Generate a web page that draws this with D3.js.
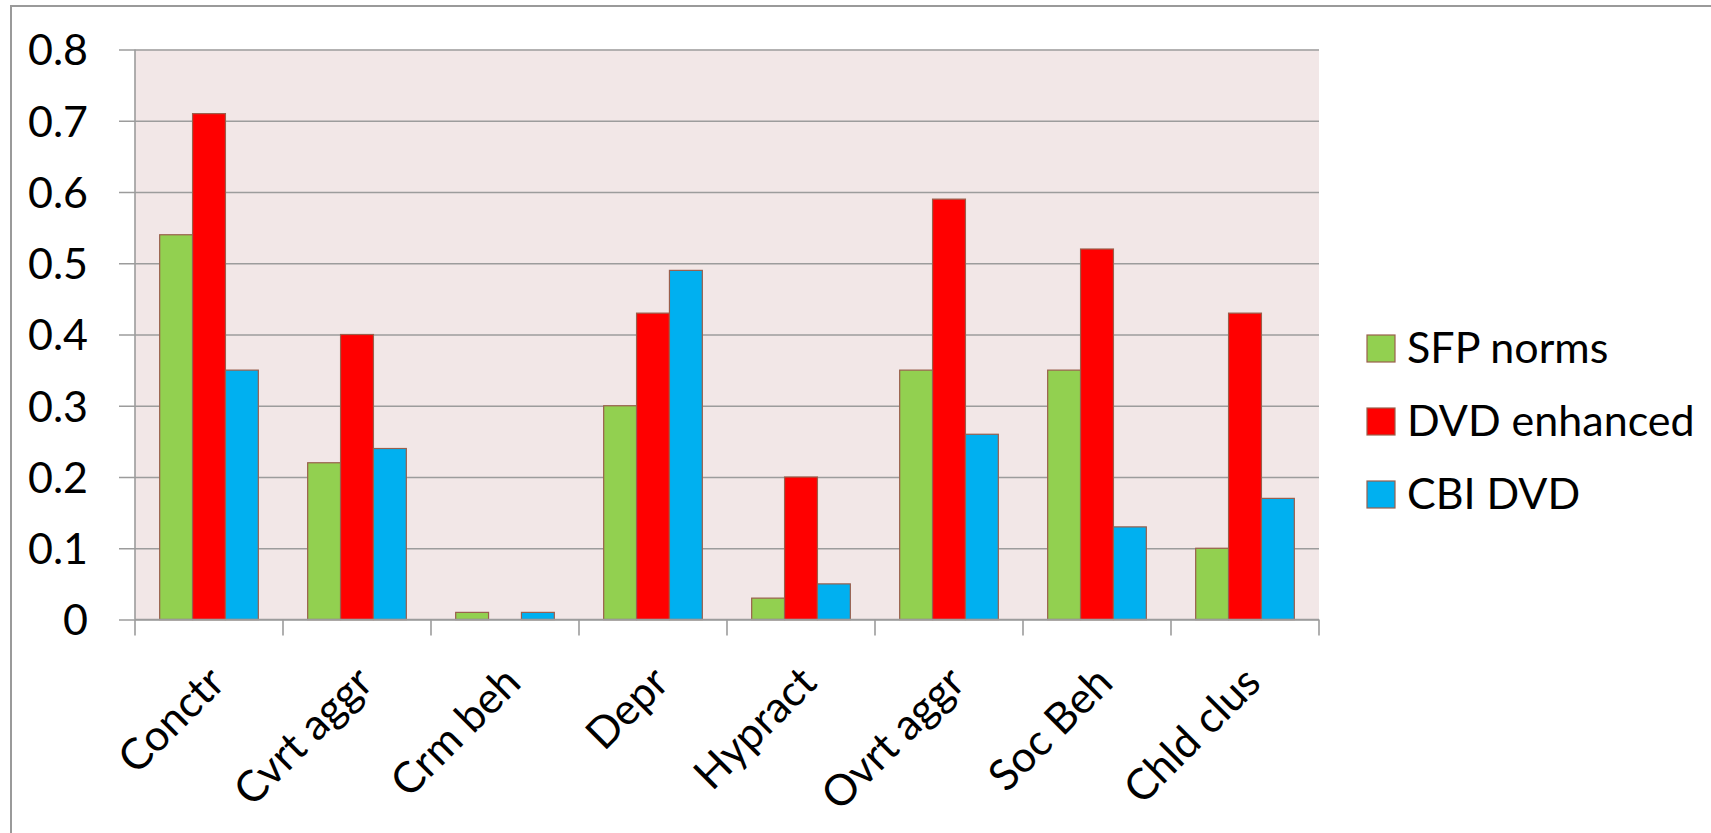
<!DOCTYPE html>
<html>
<head>
<meta charset="utf-8">
<script src="https://cdn.jsdelivr.net/npm/d3@7"></script>
<style>
  html, body { margin: 0; padding: 0; background: #ffffff; overflow: hidden; }
  svg { display: block; }
  text { font-family: Lato, "Open Sans", sans-serif; fill: #000; }
</style>
</head>
<body>
<svg id="chart" width="1711" height="833"></svg>
<script>
const categories = ["Conctr", "Cvrt aggr", "Crm beh", "Depr", "Hypract", "Ovrt aggr", "Soc Beh", "Chld clus"];
const seriesNames = ["SFP norms", "DVD enhanced", "CBI DVD"];
const sfpNorms    = [0.54, 0.22, 0.01, 0.30, 0.03, 0.35, 0.35, 0.10];
const dvdEnhanced = [0.71, 0.40, 0.00, 0.43, 0.20, 0.59, 0.52, 0.43];
const cbiDvd      = [0.35, 0.24, 0.01, 0.49, 0.05, 0.26, 0.13, 0.17];
const yTicks = [0, 0.1, 0.2, 0.3, 0.4, 0.5, 0.6, 0.7, 0.8];
const colors = ["#92D050", "#FF0000", "#00B0F0"];

const seriesValues = [sfpNorms, dvdEnhanced, cbiDvd];

const svg = d3.select("#chart");
const W = 1711, H = 833;
const plot = { left: 135, right: 1319, top: 49.5, bottom: 619.5 };
const fontSize = 43;

// outer chart border (extends past right/bottom edges)
svg.append("rect")
  .attr("x", 11).attr("y", 6)
  .attr("width", W).attr("height", H)
  .attr("fill", "#fff")
  .attr("stroke", "#9a9a9a").attr("stroke-width", 2);

// plot area background
svg.append("rect")
  .attr("x", plot.left).attr("y", plot.top)
  .attr("width", plot.right - plot.left).attr("height", plot.bottom - plot.top)
  .attr("fill", "#F2E7E7");

const x = d3.scaleBand().domain(categories).range([plot.left, plot.right]).paddingInner(0).paddingOuter(0);
const xs = d3.scaleBand().domain(seriesNames).range([0, x.bandwidth()]).paddingInner(0).paddingOuter(0.75);
const y = d3.scaleLinear().domain([0, 0.8]).range([plot.bottom, plot.top]);

// y gridlines + labels via axis
const yAxis = d3.axisLeft(y)
  .tickValues(yTicks)
  .tickSize(-(plot.right - plot.left) - 16)
  .tickPadding(47)
  .tickFormat(d => d === 0 ? "0" : d3.format(".1f")(d));

const gy = svg.append("g")
  .attr("transform", `translate(${plot.right},0)`)
  .call(yAxis);
gy.select(".domain").remove();
gy.selectAll(".tick line")
  .attr("x1", 0)
  .attr("x2", -(plot.right - plot.left) - 16)
  .attr("stroke", "#9c9c9c").attr("stroke-width", 1.6);
gy.selectAll(".tick text")
  .attr("x", -(plot.right - 88))
  .attr("dy", "0.36em")
  .attr("text-anchor", "end")
  .style("font-size", fontSize + "px")
  .style("font-family", "Lato, sans-serif")
  .attr("fill", "#000");

// vertical axis line
svg.append("line")
  .attr("x1", plot.left).attr("x2", plot.left)
  .attr("y1", plot.top).attr("y2", plot.bottom)
  .attr("stroke", "#9c9c9c").attr("stroke-width", 1.6);

// bars
const groups = svg.append("g").selectAll("g")
  .data(categories)
  .join("g")
  .attr("transform", d => `translate(${x(d)},0)`);

groups.selectAll("rect")
  .data((c, i) => seriesNames.map((s, j) => ({ s, v: seriesValues[j][i], j })))
  .join("rect")
  .filter(d => d.v > 0)
  .attr("x", d => xs(d.s))
  .attr("width", xs.bandwidth())
  .attr("y", d => y(d.v))
  .attr("height", d => y(0) - y(d.v))
  .attr("fill", d => colors[d.j])
  .attr("stroke", "#9a5f4c")
  .attr("stroke-width", 1.2);

// x axis: baseline + ticks at category boundaries
const gx = svg.append("g").attr("transform", `translate(0,${plot.bottom})`);
gx.append("line")
  .attr("x1", plot.left).attr("x2", plot.right)
  .attr("y1", 0).attr("y2", 0)
  .attr("stroke", "#9c9c9c").attr("stroke-width", 1.6);
const boundaries = categories.map(c => x(c)).concat([x(categories[categories.length - 1]) + x.bandwidth()]);
gx.selectAll("line.tk")
  .data(boundaries)
  .join("line")
  .attr("class", "tk")
  .attr("x1", d => d).attr("x2", d => d)
  .attr("y1", 0).attr("y2", 16)
  .attr("stroke", "#9c9c9c").attr("stroke-width", 1.6);

// rotated category labels
svg.append("g").selectAll("text")
  .data(categories)
  .join("text")
  .attr("transform", d => `translate(${x(d) + x.bandwidth() / 2 + 18},685) rotate(-45)`)
  .attr("text-anchor", "end")
  .style("font-size", fontSize + "px")
  .text(d => d);

// legend
const legend = svg.append("g");
const legendRows = legend.selectAll("g")
  .data(seriesNames)
  .join("g")
  .attr("transform", (d, i) => `translate(1367,${335 + i * 73})`);
legendRows.append("rect")
  .attr("width", 28).attr("height", 27)
  .attr("fill", (d, i) => colors[i])
  .attr("stroke", "#9a5f4c").attr("stroke-width", 1.2);
legendRows.append("text")
  .attr("x", 40)
  .attr("y", 28)
  .style("font-size", fontSize + "px")
  .text(d => d);
</script>
</body>
</html>
